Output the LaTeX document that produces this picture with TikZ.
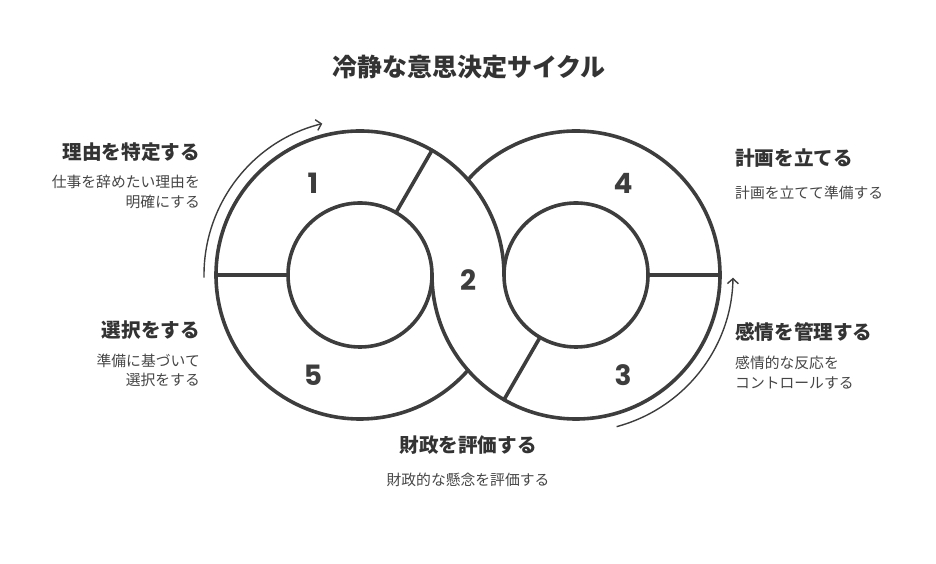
\documentclass[tikz,border=0pt]{standalone}
\usepackage{fontspec}
\usetikzlibrary{arrows.meta}
\newfontfamily\jpfont{Noto Sans CJK JP}
\newfontfamily\numfont{Poppins}
\definecolor{ink}{HTML}{3D3D3D}
\definecolor{headtxt}{HTML}{333333}
\definecolor{subtxt}{HTML}{454545}
\tikzset{>={Straight Barb[length=5pt,width=11pt]},
  ring/.style={draw=ink, line width=3.6pt, line cap=round},
  flow/.style={draw=ink, line width=1.4pt},
  num/.style={text=ink, font=\numfont\bfseries\fontsize{28}{30}\selectfont, inner sep=0pt},
  title/.style={text=headtxt, font=\jpfont\bfseries\fontsize{25}{29}\selectfont, inner sep=0pt},
  head/.style={text=headtxt, font=\jpfont\bfseries\fontsize{19.6}{23}\selectfont, inner sep=0pt},
  sub/.style={text=subtxt, font=\jpfont\fontsize{14.8}{19.5}\selectfont, inner sep=0pt}}

\begin{document}
\begin{tikzpicture}[x=1pt,y=1pt]
    \useasboundingbox (0,0) rectangle (936,564);
    \coordinate (L) at (360,289);
    \coordinate (R) at (576,289);
    % rings
    \draw[ring] (L) circle[radius=72];
    \draw[ring] (R) circle[radius=72];
    \draw[ring] (L) ++(0:144) arc[start angle=0, end angle=318.6, radius=144];
    \draw[ring] (R) ++(180:144) arc[start angle=180, end angle=498.6, radius=144];
    % spokes
    \draw[ring] (L) ++(180:72) -- ++(180:72);
    \draw[ring] (L) ++(60:72) -- ++(60:72);
    \draw[ring] (R) ++(0:72) -- ++(0:72);
    \draw[ring] (R) ++(240:72) -- ++(240:72);
    % direction arrows
    \draw[flow,->] (L) ++(181:156) arc[start angle=181, end angle=104, radius=156];
    \draw[flow,->] (R) ++(-75:157) arc[start angle=-75, end angle=-1, radius=157];
    % step numbers
    \node[num] (n1) at (313,381) {1};
    \node[num] (n2) at (468,284) {2};
    \node[num] (n3) at (623,189) {3};
    \node[num] (n4) at (623,381) {4};
    \node[num] (n5) at (313,189) {5};
    % texts
    \node[title] (t) at (469,497) {冷静な意思決定サイクル};
    \node[head, anchor=east] (h1) at (200,412) {理由を特定する};
    \node[sub, anchor=east, align=right] (s1) at (200,372) {仕事を辞めたい理由を\\明確にする};
    \node[head, anchor=west] (h4) at (735,406) {計画を立てる};
    \node[sub, anchor=west] (s4) at (735,371) {計画を立てて準備する};
    \node[head, anchor=east] (h5) at (200,234) {選択をする};
    \node[sub, anchor=east, align=right] (s5) at (200,193.5) {準備に基づいて\\選択をする};
    \node[head, anchor=west] (h3) at (735,232) {感情を管理する};
    \node[sub, anchor=west, align=left] (s3) at (735,191.5) {感情的な反応を\\コントロールする};
    \node[head] (h2) at (468,119) {財政を評価する};
    \node[sub] (s2) at (468,84) {財政的な懸念を評価する};
\end{tikzpicture}
\end{document}
